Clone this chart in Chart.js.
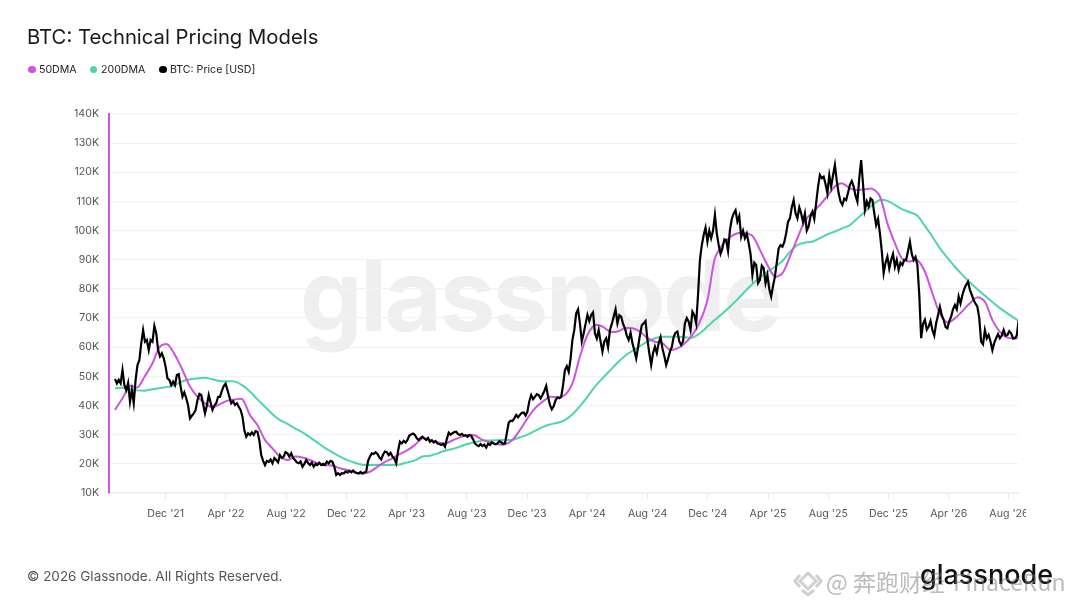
<!DOCTYPE html>
<html lang="en">
<head>
    <meta charset="UTF-8">
    <title>BTC: Technical Pricing Models</title>
    <script src="https://cdn.jsdelivr.net/npm/chart.js@4"></script>
    <style>
        html, body { margin: 0; padding: 0; background: #fff; }
        body { width: 1080px; height: 608px; position: relative; overflow: hidden; font-family: Inter, sans-serif; }
        .abs { position: absolute; white-space: nowrap; line-height: 1; }
        #title { left: 27px; top: 27px; font-size: 20.3px; color: #1a1a1a; }
        .legend { top: 64.5px; font-size: 10.6px; color: #222; }
        .dot { top: 65.5px; width: 7.5px; height: 7.5px; border-radius: 50%; }
        #bigmark { left: 300px; top: 246px; font-size: 99px; font-weight: 700; color: #efefef; letter-spacing: -2.4px; }
        #footer { left: 27px; top: 569.5px; font-size: 13.5px; color: #555; }
        #logo { left: 920px; top: 561px; font-size: 27px; font-weight: 500; color: #111; }
        #repost { left: 826px; top: 570px; font-size: 23px; color: rgba(120,120,120,.5); font-family: "Noto Sans CJK SC", sans-serif; }
        #repost span { margin-left: 8px; }
        #diamond { left: 793px; top: 566px; }
        #chart { position: absolute; left: 0; top: 0; }
    </style>
</head>
<body>
    <div class="abs" id="bigmark">glassnode</div>
    <canvas id="chart" width="1026" height="608"></canvas>
    <div class="abs" id="title">BTC: Technical Pricing Models</div>
    <div class="abs dot" style="left:28px;background:#cc55dd"></div>
    <div class="abs legend" style="left:39px">50DMA</div>
    <div class="abs dot" style="left:89.5px;background:#4fd6a8"></div>
    <div class="abs legend" style="left:101px">200DMA</div>
    <div class="abs dot" style="left:159px;background:#000"></div>
    <div class="abs legend" style="left:170px">BTC: Price [USD]</div>
    <div class="abs" id="footer">&copy; 2026 Glassnode. All Rights Reserved.</div>
    <div class="abs" id="logo">glassnode</div>
    <svg class="abs" id="diamond" width="30" height="30" viewBox="0 0 30 30">
        <g fill="none" stroke="rgba(150,150,150,.45)" stroke-width="3">
            <path d="M15 3 L23 11 L15 19 L7 11 Z" transform="translate(0 4)"/>
            <path d="M7 9 L2 15 L7 21"/>
            <path d="M23 9 L28 15 L23 21"/>
            <path d="M9 24 L15 29 L21 24"/>
        </g>
    </svg>
    <div class="abs" id="repost">@ 奔跑财经<span>FinaceRun</span></div>

    <script>
        // x is months since Aug 2021
        var tickMonths = [4, 8, 12, 16, 20, 24, 28, 32, 36, 40, 44, 48, 52, 56, 60];
        var tickLabels = ["Dec '21", "Apr '22", "Aug '22", "Dec '22", "Apr '23", "Aug '23", "Dec '23", "Apr '24",
            "Aug '24", "Dec '24", "Apr '25", "Aug '25", "Dec '25", "Apr '26", "Aug '26"];
        var yTicks = [10, 20, 30, 40, 50, 60, 70, 80, 90, 100, 110, 120, 130, 140];

        // values in thousands of USD
        var priceStart = 0.633, priceStep = 0.1245;
        var price = [
            49.1, 47.6, 48.8, 47.6, 52.2, 47.0, 45.3, 47.8, 41.3, 45.3, 40.8, 48.8, 53.9, 55.6, 61.3, 65.9, 61.9, 62.5, 59.0, 62.5,
            61.9, 67.3, 64.8, 59.0, 56.8, 57.9, 56.2, 53.3, 49.3, 48.8, 47.0, 48.2, 47.0, 50.5, 50.8, 46.5, 43.0, 44.5, 42.5, 40.0,
            35.6, 36.5, 37.3, 38.5, 41.9, 44.0, 43.6, 40.5, 37.3, 40.0, 43.6, 41.0, 38.5, 40.0, 40.8, 43.0, 43.0, 45.0, 46.7, 47.5,
            45.3, 43.0, 40.8, 41.5, 40.2, 40.8, 39.6, 38.5, 36.2, 31.5, 29.3, 30.5, 29.9, 30.8, 29.9, 31.2, 31.0, 28.0, 23.0, 21.0,
            19.6, 21.0, 20.7, 21.5, 20.2, 22.0, 21.3, 20.5, 23.0, 22.0, 22.5, 24.0, 23.6, 22.5, 23.6, 22.0, 21.3, 20.5, 20.2, 20.8,
            19.0, 20.0, 21.3, 20.3, 19.6, 20.4, 19.0, 20.0, 19.6, 20.4, 19.6, 20.0, 19.6, 20.8, 20.2, 21.0, 20.7, 19.0, 16.2, 16.8,
            16.2, 16.8, 16.7, 17.4, 17.0, 17.6, 17.1, 17.7, 17.1, 16.8, 16.7, 17.2, 16.7, 17.0, 17.3, 21.0, 22.5, 23.6, 23.4, 24.0,
            23.4, 22.2, 21.5, 23.2, 24.2, 24.0, 23.0, 23.8, 22.5, 21.8, 20.2, 24.5, 27.6, 27.0, 27.9, 27.3, 28.2, 29.7, 30.1, 30.4,
            29.9, 28.8, 28.2, 28.8,
            29.3, 28.7, 28.2, 28.9, 27.6, 28.1, 27.3, 27.8, 27.0, 26.8, 26.5, 26.9, 25.9, 28.5, 30.7, 30.0, 30.5, 30.9, 31.0, 30.2,
            29.9, 30.3, 29.6, 29.8, 29.3, 29.9, 29.6, 28.4, 27.0, 26.4, 26.1, 26.8, 26.1, 26.6, 25.6, 26.9, 26.5, 27.4, 27.0, 26.7,
            27.0, 27.8, 27.4, 26.9, 27.0, 30.5, 34.1, 34.8, 34.7, 35.6, 36.8, 36.0, 36.8, 37.5, 37.6, 36.6, 37.9, 41.5, 43.6, 42.2,
            43.0, 43.9, 43.6, 42.4, 43.6, 45.0, 46.7, 43.0, 40.2, 38.7, 39.8, 41.8, 42.8, 42.5, 43.0, 47.0, 52.2, 53.5, 51.6, 56.0,
            62.5, 66.0, 71.6, 73.0, 68.2, 62.0, 64.8, 68.0, 71.1, 69.0, 71.1, 72.0, 64.8, 63.0, 65.9, 62.0, 58.5, 62.0, 63.1, 60.0,
            65.9, 68.0, 70.5, 73.0, 68.2, 71.0, 70.5, 68.0, 66.5, 64.0, 62.5, 65.0, 61.4, 59.0, 56.2, 60.0, 64.2, 67.5, 68.2, 69.0,
            62.5, 58.0, 53.9, 58.0, 60.2, 58.0, 61.4, 63.5, 59.6, 57.0, 53.9, 56.0, 58.5, 60.0, 63.6, 65.0, 65.4, 62.0, 60.8, 62.0,
            68.2, 70.0, 68.8, 66.0, 72.2, 71.0, 68.2, 78.0,
            89.9, 95.0, 98.5, 101.0, 96.2, 100.0, 97.4, 100.0, 105.4, 99.0, 95.1, 92.0, 93.9, 97.0, 96.8, 93.0, 100.2, 104.0, 105.9, 107.0,
            103.1, 105.0, 97.9, 100.0, 97.4, 99.0, 95.7, 92.0, 84.8, 89.0, 88.2, 82.0, 83.1, 88.0, 87.1, 82.0, 84.8, 80.0, 77.4, 81.0,
            84.2, 89.0, 93.9, 95.0, 94.5, 96.0, 99.1, 103.0, 104.2, 108.0, 110.5, 106.0, 104.2, 108.0, 105.9, 103.0, 105.9, 100.0, 101.4, 105.0,
            106.5, 104.0, 109.4, 115.0, 119.1, 118.0, 118.5, 116.0, 112.8, 119.0, 115.1, 119.0, 122.5, 117.0, 112.8, 110.0, 108.8, 111.0, 110.5, 113.0,
            115.7, 117.0, 115.1, 112.0, 109.9, 118.0, 124.2, 116.0, 107.1, 110.0, 108.2, 111.0, 110.5, 106.0, 101.9, 104.0, 99.1, 93.0, 85.4, 89.0,
            91.1, 87.0, 89.9, 92.0, 87.6, 90.0, 86.5, 89.0, 88.2, 90.0, 89.9, 93.0, 96.2, 92.0, 89.9, 91.0, 88.2, 78.0, 63.1, 68.0,
            69.4, 66.0, 67.1, 69.0, 65.9, 64.0, 68.2, 71.0, 73.9, 71.0, 69.4, 67.0, 66.5, 69.0, 70.5, 73.0, 74.5, 73.0, 77.4, 75.0,
            77.9, 80.0, 81.4, 82.5, 79.7, 78.0, 76.2, 75.0, 73.9, 70.0, 61.9, 61.0, 65.9, 63.0, 64.2, 62.0, 59.0, 61.5, 63.1, 64.5,
            63.1, 64.0, 65.9, 64.0, 64.2, 65.5, 64.8, 63.0, 63.1, 64.0, 69.1
        ];

        var dmaStart = 0.633, dmaStep = 0.498;
        var dma50 = [
            38.5, 42.5, 46.7, 46.2, 50.1, 54.5, 60.2, 61.0, 57.3, 52.2, 46.5, 43.0, 40.8, 39.4, 40.5, 41.7, 42.1, 42.1, 36.7, 33.3,
            28.2, 25.3, 22.5, 21.3, 22.5, 22.2, 21.3, 20.2, 19.6, 19.4, 18.5, 17.9, 17.1, 16.7, 17.3, 19.0, 20.7, 21.9, 23.4, 24.7,
            26.5, 28.8, 28.2, 27.4, 27.0, 28.0, 29.1, 29.9, 29.7, 28.2, 27.4, 26.7, 26.7, 28.2, 31.6, 35.6, 39.0, 41.3, 43.0, 42.8,
            43.6, 47.6, 56.8, 64.2, 67.6, 67.1, 65.4, 65.4, 66.5, 66.5, 65.4, 63.1, 61.9, 61.4, 59.1, 59.6, 61.4, 64.2, 68.8, 76.2,
            90.5, 95.1, 97.7, 99.1, 99.1, 98.2, 93.4, 88.2, 84.2, 85.4, 91.1, 97.4, 103.3, 106.3, 108.8, 111.9, 115.1, 116.2, 114.5, 113.9,
            114.2, 114.3, 111.7, 102.5, 95.7, 90.2, 89.4, 89.9, 85.9, 78.5, 71.6, 68.5, 69.9, 72.4, 75.1, 77.1, 75.6, 69.3, 65.3, 63.3,
            63.1, 63.1
        ];
        var dma200 = [
            45.9, 46.1, 45.6, 45.2, 45.1, 45.6, 46.0, 46.4, 47.0, 48.3, 49.0, 49.3, 49.5, 49.0, 48.4, 48.3, 48.2, 46.9, 44.8, 42.1,
            39.6, 37.0, 35.0, 33.7, 32.2, 30.8, 29.1, 27.3, 25.5, 23.9, 22.5, 21.3, 20.4, 19.7, 19.6, 19.6, 19.6, 19.6, 19.8, 20.5,
            21.2, 22.5, 22.8, 23.6, 24.5, 25.1, 25.9, 26.8, 27.4, 28.0, 28.0, 28.1, 28.2, 28.3, 29.1, 30.0, 31.3, 32.6, 33.5, 34.1,
            35.0, 37.0, 39.8, 43.0, 46.5, 49.3, 52.0, 54.7, 57.0, 58.8, 60.4, 61.9, 63.1, 63.6, 63.6, 63.6, 63.4, 63.3, 64.8, 67.1,
            69.4, 71.6, 73.9, 76.4, 79.1, 81.7, 83.9, 85.9, 87.6, 89.6, 92.7, 95.1, 95.9, 96.2, 97.4, 98.7, 99.7, 100.8, 101.9, 104.2,
            106.5, 108.8, 110.5, 110.2, 108.8, 107.3, 106.3, 105.1, 101.6, 97.9, 93.9, 90.7, 87.6, 84.8, 82.2, 79.9, 77.7, 75.5, 73.4, 71.6,
            69.9, 68.0
        ];

        function toPoints(values, start, step) {
            return values.map(function (v, i) { return { x: start + i * step, y: v }; });
        }

        new Chart(document.getElementById('chart').getContext('2d'), {
            type: 'line',
            data: {
                datasets: [
                    { label: 'BTC: Price [USD]', data: toPoints(price, priceStart, priceStep), borderColor: '#000', borderWidth: 2.2, tension: 0, order: 1 },
                    { label: '50DMA', data: toPoints(dma50, dmaStart, dmaStep), borderColor: '#cc55dd', borderWidth: 2, tension: 0.3, order: 2 },
                    { label: '200DMA', data: toPoints(dma200, dmaStart, dmaStep), borderColor: '#4fd6a8', borderWidth: 2, tension: 0.3, order: 3 }
                ]
            },
            options: {
                responsive: false,
                animation: false,
                parsing: false,
                layout: { padding: { left: 0, right: 8, top: 114, bottom: 0 } },
                elements: { point: { radius: 0 } },
                plugins: { legend: { display: false }, title: { display: false }, tooltip: { enabled: false } },
                scales: {
                    x: {
                        type: 'linear',
                        min: 0.235,
                        max: 60.6,
                        afterBuildTicks: function (scale) {
                            scale.ticks = tickMonths.map(function (m) { return { value: m }; });
                        },
                        afterFit: function (scale) {
                            scale.height = 115;
                            scale.paddingLeft = 0;
                            scale.paddingRight = 0;
                        },
                        grid: { drawOnChartArea: false, drawTicks: true, tickLength: 6, color: '#e8e8e8' },
                        border: { color: '#ececec', width: 1.5 },
                        ticks: {
                            autoSkip: false,
                            maxRotation: 0,
                            padding: 8,
                            color: '#555',
                            font: { family: 'Inter', size: 10.6 },
                            callback: function (value) { return tickLabels[tickMonths.indexOf(value)]; }
                        }
                    },
                    y: {
                        min: 10,
                        max: 140,
                        afterBuildTicks: function (scale) {
                            scale.ticks = yTicks.map(function (v) { return { value: v }; });
                        },
                        afterFit: function (scale) { scale.width = 109; },
                        grid: { color: '#f2f2f2', lineWidth: 1.2, drawTicks: false },
                        border: { color: '#cc55dd', width: 2 },
                        ticks: {
                            padding: 10,
                            color: '#555',
                            font: { family: 'Inter', size: 10.6 },
                            callback: function (value) { return value + 'K'; }
                        }
                    }
                }
            }
        });
    </script>
</body>
</html>
